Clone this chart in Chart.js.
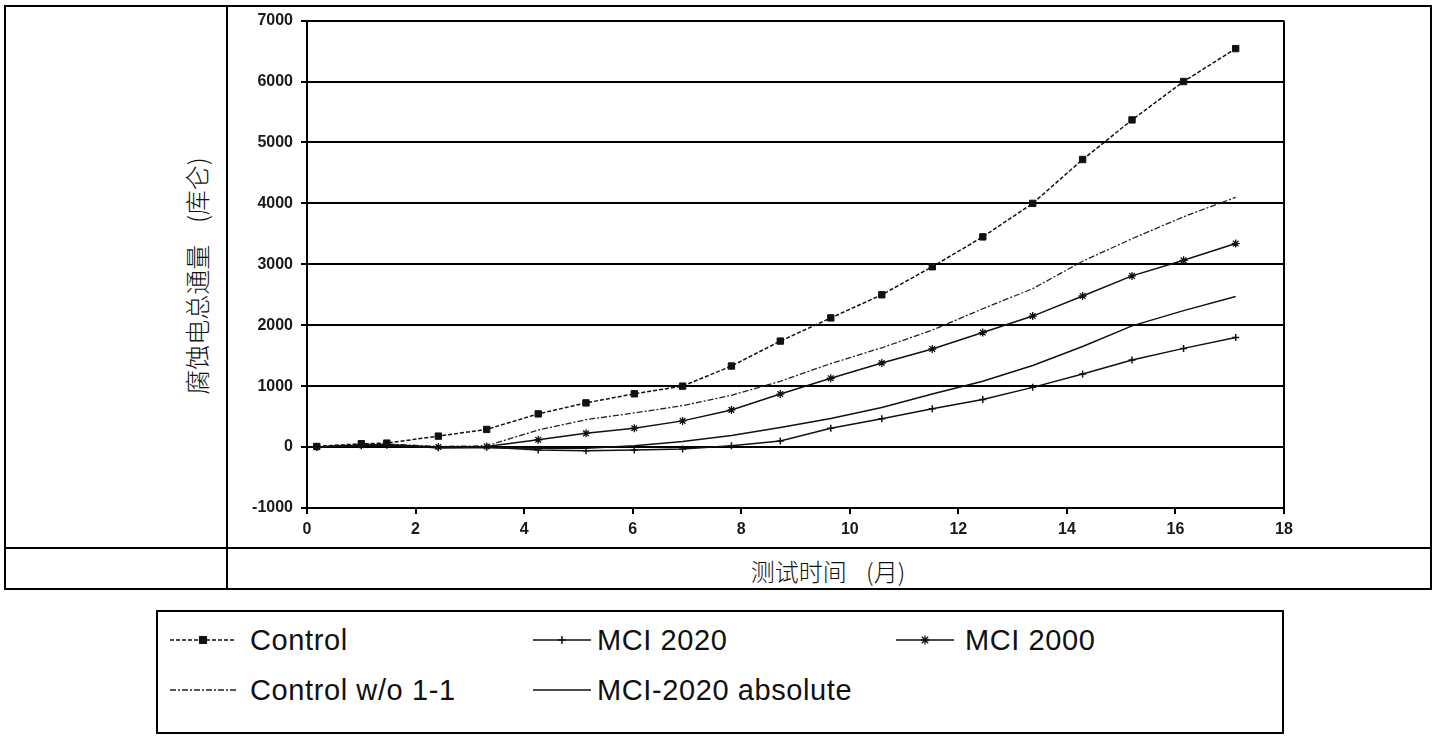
<!DOCTYPE html>
<html>
<head>
<meta charset="utf-8">
<script src="https://cdn.jsdelivr.net/npm/chart.js@4/dist/chart.umd.min.js"></script>
<style>
  html, body { margin:0; padding:0; background:#fff; }
  body { width:1436px; height:740px; position:relative; overflow:hidden; }
  .abs { position:absolute; }
  .cjk { font-family:"Noto Sans CJK SC", "Noto Sans", sans-serif; font-size:24px; font-weight:300; color:#111; white-space:nowrap; word-spacing:14px; }
  .leg { font-family:"Liberation Sans", Arial, sans-serif; font-size:29px; color:#111; white-space:nowrap; letter-spacing:0.6px; }
</style>
</head>
<body>
<script>
// ---------- data ----------
const months      = [0.18, 1.0, 1.47, 2.42, 3.31, 4.26, 5.14, 6.03, 6.92, 7.82, 8.72, 9.65, 10.59, 11.52, 12.45, 13.37, 14.29, 15.20, 16.15, 17.11];
const control     = [10, 55, 65, 180, 290, 545, 725, 875, 1000, 1330, 1740, 2120, 2500, 2960, 3450, 4000, 4720, 5370, 6000, 6540];
const mci2020     = [0, 30, 40, -10, 0, -50, -60, -50, -30, 20, 100, 310, 465, 630, 780, 980, 1200, 1430, 1620, 1800];
const mci2000     = [0, 30, 40, 0, 10, 120, 225, 310, 430, 610, 870, 1130, 1380, 1610, 1880, 2150, 2480, 2810, 3065, 3340];
const controlWo   = [0, 40, 50, 10, 20, 280, 450, 560, 680, 850, 1080, 1370, 1630, 1920, 2270, 2600, 3050, 3420, 3780, 4100];
const mci2020Abs  = [0, 20, 30, -10, -10, -20, -20, 20, 90, 190, 320, 470, 650, 870, 1080, 1340, 1650, 1990, 2240, 2470];
const seriesNames = ["Control", "MCI 2020", "MCI 2000", "Control w/o 1-1", "MCI-2020 absolute"];
const xTitle = "测试时间 (月)";
const yTitle = "腐蚀电总通量 (库仑)";
const xMin = 0, xMax = 18, xStep = 2;
const yMin = -1000, yMax = 7000, yStep = 1000;
</script>

<!-- table frame -->
<div class="abs" style="left:4px;top:5px;width:1428px;height:585px;border:2px solid #000;box-sizing:border-box;"></div>
<div class="abs" style="left:226px;top:5px;width:2px;height:585px;background:#000;"></div>
<div class="abs" style="left:4px;top:547px;width:1428px;height:2px;background:#000;"></div>

<div id="ytitle" class="abs cjk" style="left:196px;top:276px;font-size:25px;word-spacing:16px;transform:translate(-50%,-50%) rotate(-90deg);"></div>
<div id="xtitle" class="abs cjk" style="left:828px;top:570px;transform:translate(-50%,-50%);"></div>

<canvas id="c" class="abs" width="1201" height="543" style="left:229px;top:3px;width:1201px;height:543px;"></canvas>

<!-- legend box -->
<div class="abs" style="left:156px;top:610px;width:1128px;height:124px;border:2px solid #000;box-sizing:border-box;"></div>
<div id="legend"></div>

<script>
document.getElementById('ytitle').textContent = yTitle;
document.getElementById('xtitle').textContent = xTitle;

const pts = vals => months.map((m, i) => ({ x: m, y: vals[i] }));

const datasets = [
  { label: seriesNames[0], data: pts(control), borderColor:'#111', backgroundColor:'#111', borderWidth:1.5,
    borderDash:[4,2], pointStyle:'rect', pointRadius:4.5, pointBorderWidth:1 },
  { label: seriesNames[1], data: pts(mci2020), borderColor:'#111', backgroundColor:'#111', borderWidth:1.5,
    pointStyle:'cross', pointRadius:3.5, pointBorderWidth:1.5 },
  { label: seriesNames[2], data: pts(mci2000), borderColor:'#111', backgroundColor:'#111', borderWidth:1.5,
    pointStyle:'star', pointRadius:4, pointBorderWidth:1.3 },
  { label: seriesNames[3], data: pts(controlWo), borderColor:'#222', backgroundColor:'#222', borderWidth:1.3,
    borderDash:[6,2,2,2], pointRadius:0 },
  { label: seriesNames[4], data: pts(mci2020Abs), borderColor:'#111', backgroundColor:'#111', borderWidth:1.5,
    pointRadius:0 }
];

const tickFont = { family:"'Liberation Sans', Arial, sans-serif", size:16, weight:'bold' };

const chart = new Chart(document.getElementById('c'), {
  type: 'line',
  data: { datasets },
  options: {
    responsive:false, animation:false,
    layout:{ padding:{ left:4, right:146, top:7, bottom:6 } },
    plugins:{ legend:{ display:false }, tooltip:{ enabled:false } },
    elements:{ line:{ tension:0 } },
    scales:{
      x:{
        type:'linear', min:xMin, max:xMax,
        ticks:{ stepSize:xStep, color:'#1a1a1a', font:tickFont, padding:6, maxRotation:0,
                callback: v => String(v) },
        grid:{ color: c => (c.tick && c.tick.value === xMax) ? '#000' : 'rgba(0,0,0,0)', lineWidth:2,
               tickColor:'#000', tickLength:6, drawOnChartArea:true },
        border:{ display:true, color:'#000', width:2 },
        afterFit: s => { s.height = 32; }
      },
      y:{
        type:'linear', min:yMin, max:yMax,
        ticks:{ stepSize:yStep, color:'#1a1a1a', font:tickFont, padding:8,
                callback: v => String(v) },
        grid:{ color:'#000', lineWidth:2, tickColor:'#000', tickLength:6 },
        border:{ display:true, color:'#000', width:2 },
        afterFit: s => { s.width = 74; }
      }
    }
  }
});

// ---------- legend built from the datasets ----------
const legendPos = [
  { sx:170, tx:250, y:640, w:66 },
  { sx:533, tx:597, y:640, w:58 },
  { sx:896, tx:965, y:640, w:58 },
  { sx:170, tx:250, y:690, w:66 },
  { sx:533, tx:597, y:690, w:58 }
];
const legendEl = document.getElementById('legend');
datasets.forEach((ds, i) => {
  const p = legendPos[i];
  const cv = document.createElement('canvas');
  cv.width = p.w; cv.height = 20;
  cv.className = 'abs';
  cv.style.left = p.sx + 'px'; cv.style.top = (p.y - 10) + 'px';
  legendEl.appendChild(cv);
  const ctx = cv.getContext('2d');
  ctx.strokeStyle = ds.borderColor; ctx.lineWidth = ds.borderWidth;
  ctx.setLineDash(ds.borderDash || []);
  ctx.beginPath(); ctx.moveTo(0, 10); ctx.lineTo(p.w, 10); ctx.stroke();
  ctx.setLineDash([]);
  if (ds.pointRadius > 0) {
    ctx.fillStyle = ds.backgroundColor; ctx.strokeStyle = ds.borderColor;
    ctx.lineWidth = ds.pointBorderWidth;
    Chart.helpers.drawPoint(ctx, { pointStyle: ds.pointStyle, radius: ds.pointRadius + 0.5, borderWidth: ds.pointBorderWidth, rotation:0 }, p.w / 2, 10);
  }
  const t = document.createElement('div');
  t.className = 'abs leg';
  t.style.left = p.tx + 'px'; t.style.top = p.y + 'px';
  t.style.transform = 'translateY(-50%)';
  t.textContent = ds.label;
  legendEl.appendChild(t);
});
</script>
</body>
</html>
